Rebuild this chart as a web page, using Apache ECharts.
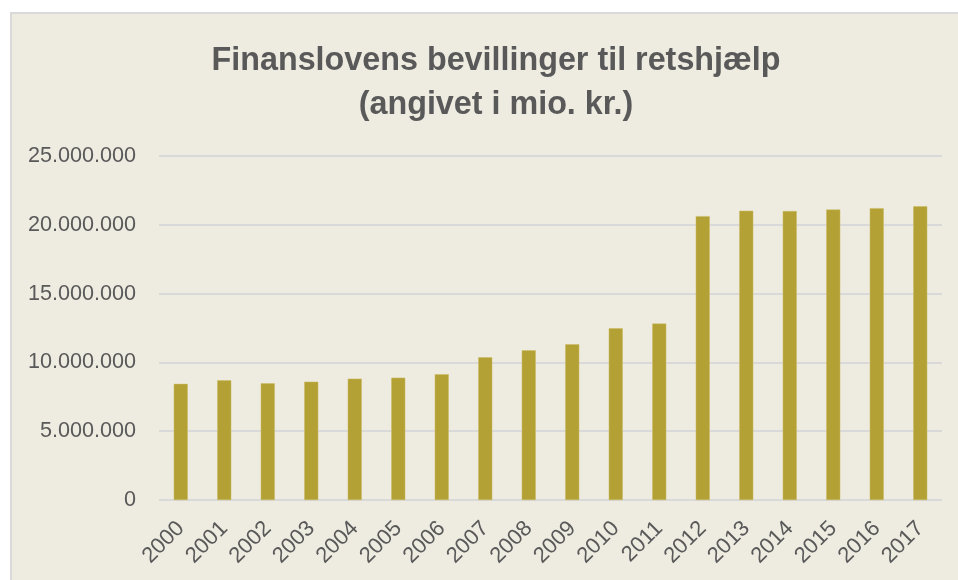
<!DOCTYPE html>
<html>
<head>
<meta charset="utf-8">
<script src="https://cdn.jsdelivr.net/npm/echarts@6/dist/echarts.min.js"></script>
<style>
  html, body { margin: 0; padding: 0; background: #fff; overflow: hidden; }
  #frame { position: absolute; left: 10px; top: 12px; width: 960px; height: 580px;
           background: #EEEBE0; border-left: 2px solid #D9D9D9; border-top: 2px solid #D9D9D9; }
  #chart { position: absolute; left: 0; top: 0; width: 958px; height: 580px; }
</style>
</head>
<body>
<div id="frame"></div>
<div id="chart"></div>
<script>
// Finanslovens bevillinger (kr.)
const years = ['2000', '2001', '2002', '2003', '2004', '2005', '2006', '2007', '2008',
  '2009', '2010', '2011', '2012', '2013', '2014', '2015', '2016', '2017'];
const amounts = [8440000, 8700000, 8480000, 8600000, 8820000, 8890000, 9140000, 10370000, 10880000,
  11320000, 12480000, 12820000, 20630000, 21020000, 21000000, 21110000, 21210000, 21350000];
const yTicks = [0, 25000000, 5000000]; // min, max, interval

const fmt = v => String(v).replace(/\B(?=(\d{3})+(?!\d))/g, '.');

const chart = echarts.init(document.getElementById('chart'), null, { renderer: 'canvas' });
chart.setOption({
  backgroundColor: 'transparent',
  animation: false,
  title: {
    text: 'Finanslovens bevillinger til retshjælp\n(angivet i mio. kr.)',
    left: 491,
    top: 34,
    textAlign: 'center',
    textStyle: {
      fontFamily: 'Liberation Sans',
      fontSize: 32.3,
      fontWeight: 'bold',
      color: '#595959',
      lineHeight: 44
    }
  },
  grid: { left: 159, right: 16, top: 156, bottom: 80 },
  xAxis: {
    type: 'category',
    data: years,
    axisLine: { show: false },
    axisTick: { show: false },
    axisLabel: {
      rotate: 45,
      margin: 25,
      interval: 0,
      fontFamily: 'Liberation Sans',
      fontSize: 22,
      color: '#595959'
    }
  },
  yAxis: {
    type: 'value',
    min: yTicks[0],
    max: yTicks[1],
    interval: yTicks[2],
    axisLine: { show: false },
    axisTick: { show: false },
    splitLine: { lineStyle: { color: '#D9D9D9', width: 2 } },
    axisLabel: {
      margin: 23,
      formatter: fmt,
      fontFamily: 'Liberation Sans',
      fontSize: 21.6,
      color: '#595959'
    }
  },
  series: [{
    type: 'bar',
    data: amounts,
    barWidth: 14,
    itemStyle: { color: '#B3A135', borderColor: '#C9BA62', borderWidth: 0.5 }
  }]
});
</script>
</body>
</html>
